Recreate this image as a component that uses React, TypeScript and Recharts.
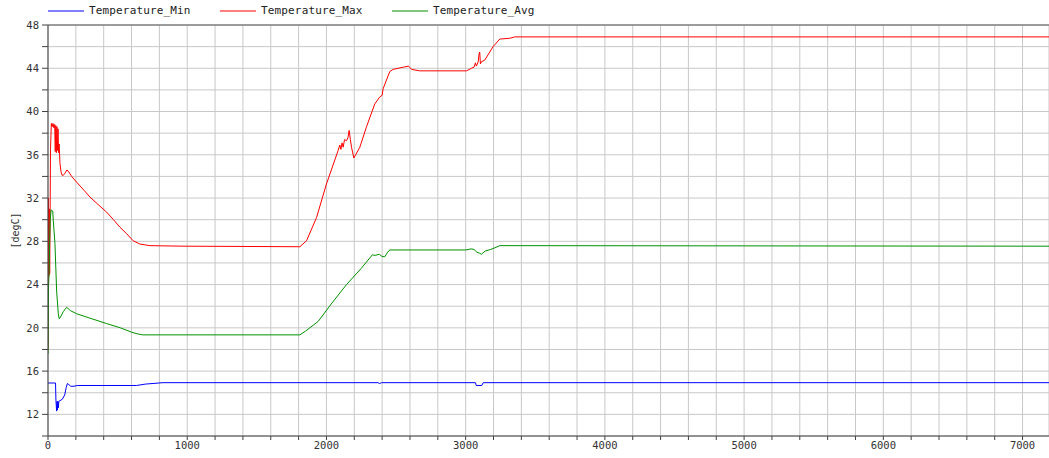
import React from 'react'
import {
  LineChart, Line, XAxis, YAxis, CartesianGrid, Legend, ReferenceLine,
} from 'recharts'

// time [s] and temperature [degC] samples for each signal
const minT = [0, 54, 57, 62, 65, 68, 71, 74, 78, 103, 120, 131, 139, 150, 163, 187, 210, 636, 700, 826, 2370, 2383, 2395, 3070, 3076, 3116, 3126, 7190]
const minV = [14.9, 14.9, 13.3, 12.3, 13.2, 12.4, 13.2, 12.6, 13.2, 13.4, 13.8, 14.5, 14.85, 14.75, 14.6, 14.6, 14.67, 14.67, 14.8, 14.93, 14.93, 14.85, 14.93, 14.93, 14.67, 14.67, 14.93, 14.93]

const maxT = [0, 3, 6, 9, 12, 15, 18, 24, 30, 36, 42, 48, 52, 56, 60, 64, 68, 72, 76, 80, 86, 94, 102, 110, 122, 136, 150, 170, 206, 260, 301, 360, 421, 470, 517, 565, 612, 660, 732, 970, 1809, 1857, 1929, 2000, 2084, 2096, 2104, 2112, 2120, 2130, 2144, 2155, 2163, 2172, 2180, 2197, 2240, 2288, 2347, 2383, 2400, 2407, 2455, 2479, 2563, 2590, 2611, 2670, 3006, 3042, 3060, 3070, 3077, 3090, 3097, 3101, 3106, 3113, 3137, 3197, 3245, 3316, 3352, 7190]
const maxV = [18, 32, 24.8, 31, 25, 30, 36.5, 38.9, 38.6, 38.9, 38.5, 38.8, 36.3, 38.7, 36.2, 38.6, 36.4, 38.4, 36.2, 37.0, 35.2, 34.4, 34.1, 34.1, 34.3, 34.6, 34.4, 34.0, 33.46, 32.7, 32.1, 31.4, 30.7, 30.0, 29.3, 28.7, 28.05, 27.75, 27.6, 27.55, 27.5, 28.05, 30.2, 33.3, 36.4, 36.9, 36.5, 37.1, 36.7, 37.4, 37.3, 37.6, 38.25, 37.4, 36.7, 35.7, 36.7, 38.6, 40.7, 41.35, 41.5, 42.1, 43.7, 43.9, 44.13, 44.2, 43.9, 43.76, 43.76, 44.0, 44.1, 44.5, 44.2, 44.6, 45.4, 45.5, 44.4, 44.6, 44.75, 46.0, 46.7, 46.77, 46.9, 46.9]

const avgT = [0, 4, 8, 12, 16, 22, 34, 38, 50, 62, 74, 80, 86, 110, 134, 160, 206, 300, 420, 520, 600, 640, 680, 1809, 1850, 1941, 2040, 2144, 2250, 2330, 2350, 2380, 2400, 2419, 2440, 2455, 3000, 3040, 3060, 3080, 3100, 3113, 3140, 3180, 3210, 3245, 7190]
const avgV = [17.6, 24, 25, 28, 30, 30.9, 30.8, 29.9, 27.8, 23.4, 21.3, 20.85, 20.9, 21.5, 21.9, 21.6, 21.3, 20.9, 20.4, 20.0, 19.6, 19.45, 19.35, 19.35, 19.7, 20.6, 22.3, 24.0, 25.5, 26.75, 26.7, 26.8, 26.6, 26.57, 27.0, 27.2, 27.2, 27.3, 27.25, 27.0, 26.9, 26.8, 27.1, 27.25, 27.4, 27.6, 27.55]

const yTicks = [10, 12, 14, 16, 18, 20, 22, 24, 26, 28, 30, 32, 34, 36, 38, 40, 42, 44, 46, 48]
const xTicks = Array.from({ length: 36 }, (_, i) => i * 200)

const series = [
  { name: 'Temperature_Min', color: '#0000ff', t: minT, v: minV },
  { name: 'Temperature_Max', color: '#ff0000', t: maxT, v: maxV },
  { name: 'Temperature_Avg', color: '#009000', t: avgT, v: avgV },
]

const mono = 'DejaVu Sans Mono, monospace'

function LegendRow() {
  return (
    <div style={{ display: 'flex', height: 25, paddingLeft: 48, fontFamily: mono, fontSize: 11, color: '#222' }}>
      {series.map((s) => (
        <div key={s.name} style={{ width: 172, display: 'flex', alignItems: 'center', height: 21 }}>
          <svg width={36} height={4} style={{ marginRight: 5 }}>
            <line x1={0} y1={2} x2={36} y2={2} stroke={s.color} strokeWidth={1} />
          </svg>
          <span style={{ letterSpacing: 0.15 }}>{s.name}</span>
        </div>
      ))}
    </div>
  )
}

export default function App() {
  return (
    <div style={{ position: 'absolute', left: 0, top: 0, width: 1049, height: 458, background: '#fff', overflow: 'hidden' }}>
      <LineChart width={1049} height={458} margin={{ top: 0, right: 0, left: 0, bottom: 0 }}>
        <CartesianGrid stroke="#c8c8c8" />
        <XAxis
          dataKey="t"
          type="number"
          domain={[0, 7190]}
          ticks={xTicks}
          interval={0}
          height={22}
          tickSize={4}
          tickMargin={2}
          stroke="#404040"
          tick={{ fontSize: 10.5, fill: '#333', fontFamily: mono }}
          tickFormatter={(v: number) => (v % 1000 === 0 ? String(v) : '')}
          allowDataOverflow
        />
        <YAxis
          type="number"
          domain={[10, 48]}
          ticks={yTicks}
          interval={0}
          width={48}
          tickSize={6}
          tickMargin={3}
          stroke="#404040"
          tick={{ fontSize: 10.5, fill: '#333', fontFamily: mono }}
          tickFormatter={(v: number) => (v % 4 === 0 ? String(v) : '')}
          label={{ value: '[degC]', angle: -90, position: 'center', dx: -9, fontSize: 10, fill: '#333', fontFamily: mono }}
          allowDataOverflow
        />
        <ReferenceLine y={48} stroke="#555" />
        <Legend verticalAlign="top" align="left" height={25} content={() => <LegendRow />} />
        {series.map((s) => (
          <Line
            key={s.name}
            data={s.t.map((t, i) => ({ t, v: s.v[i] }))}
            dataKey="v"
            name={s.name}
            type="linear"
            stroke={s.color}
            strokeWidth={1}
            dot={false}
            activeDot={false}
            isAnimationActive={false}
          />
        ))}
      </LineChart>
    </div>
  )
}
